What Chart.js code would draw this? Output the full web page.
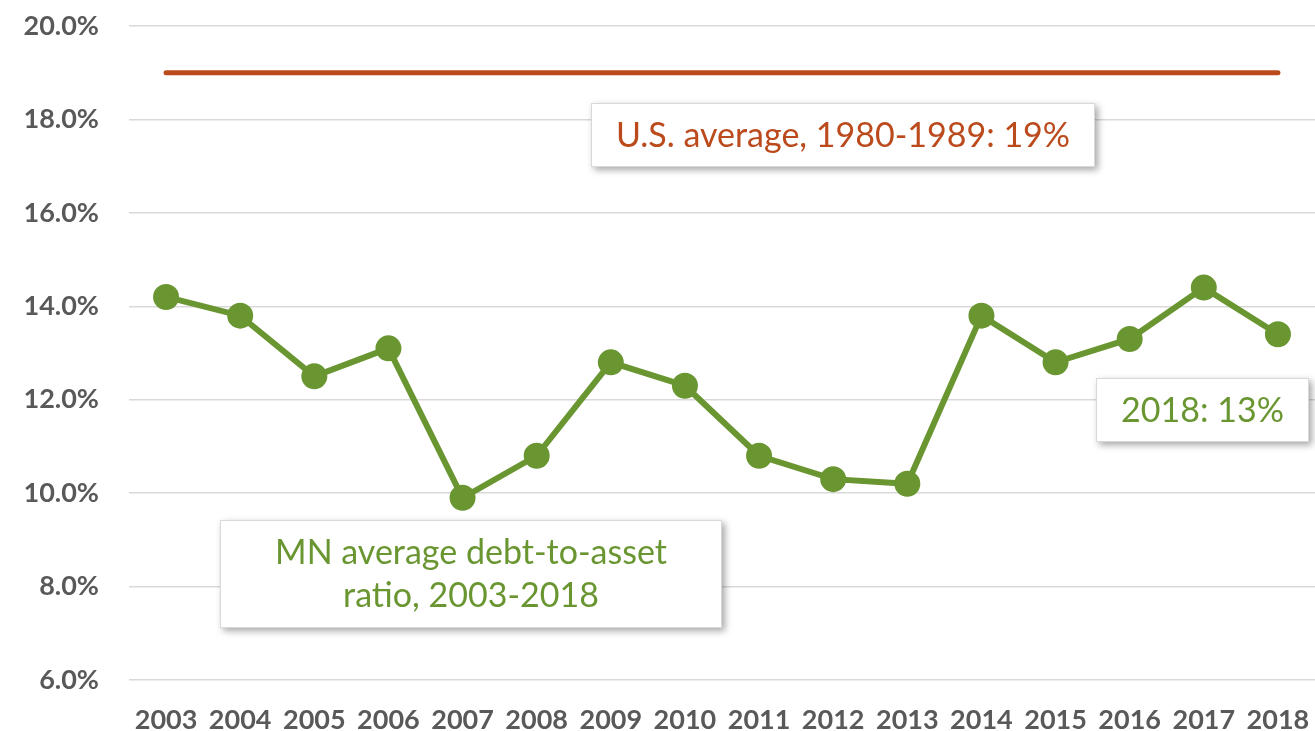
<!DOCTYPE html>
<html>
<head>
<meta charset="utf-8">
<script src="https://cdn.jsdelivr.net/npm/chart.js@4.4.1/dist/chart.umd.min.js"></script>
<style>
    html, body { margin: 0; padding: 0; background: #fff; }
    #wrap { width: 1315px; height: 731px; }
</style>
</head>
<body>
<div id="wrap"><canvas id="graficoDivida"></canvas></div>
<script>
const anos = ['2003', '2004', '2005', '2006', '2007', '2008', '2009', '2010',
    '2011', '2012', '2013', '2014', '2015', '2016', '2017', '2018'];

// razão média dívida/ativo em MN (%)
const mediaMN = [14.2, 13.8, 12.5, 13.1, 9.9, 10.8, 12.8, 12.3,
    10.8, 10.3, 10.2, 13.8, 12.8, 13.3, 14.4, 13.4];

// média dos EUA 1980-1989 (%)
const mediaEUA = [19, 19, 19, 19, 19, 19, 19, 19,
    19, 19, 19, 19, 19, 19, 19, 19];

const ticksY = [6, 8, 10, 12, 14, 16, 18, 20];

const verde = '#6a9632';
const laranja = '#bb4a1c';
const cinzaTexto = '#595959';
const fonteTexto = 'Lato, "Open Sans", sans-serif';

// caixas de texto com sombra, como no slide original
const caixas = [
    { x: 591, y: 103, w: 504, h: 64, cor: laranja, linhas: ['U.S. average, 1980-1989: 19%'] },
    { x: 220, y: 520, w: 502, h: 108, cor: verde, linhas: ['MN average debt-to-asset', 'ratio, 2003-2018'] },
    { x: 1096, y: 378, w: 213, h: 64, cor: verde, linhas: ['2018: 13%'] }
];

const pluginCaixas = {
    id: 'caixas',
    afterDatasetsDraw(chart) {
        const ctx = chart.ctx;
        caixas.forEach(c => {
            ctx.save();
            ctx.shadowColor = 'rgba(0,0,0,0.35)';
            ctx.shadowBlur = 7;
            ctx.shadowOffsetX = 3;
            ctx.shadowOffsetY = 3;
            ctx.fillStyle = '#fff';
            ctx.fillRect(c.x, c.y, c.w, c.h);
            ctx.restore();

            ctx.save();
            ctx.strokeStyle = '#d9d9d9';
            ctx.lineWidth = 1;
            ctx.strokeRect(c.x + 0.5, c.y + 0.5, c.w - 1, c.h - 1);
            ctx.fillStyle = c.cor;
            ctx.font = '34px ' + fonteTexto;
            ctx.textAlign = 'center';
            ctx.textBaseline = 'middle';
            const alt = 43;
            const inicio = c.y + c.h / 2 + 1 - (c.linhas.length - 1) * alt / 2;
            c.linhas.forEach((l, i) => ctx.fillText(l, c.x + c.w / 2, inicio + i * alt));
            ctx.restore();
        });
    }
};

const ctx = document.getElementById('graficoDivida').getContext('2d');

new Chart(ctx, {
    type: 'line',
    data: {
        labels: anos,
        datasets: [
            {
                label: 'U.S. average, 1980-1989',
                data: mediaEUA,
                borderColor: laranja,
                borderWidth: 5,
                borderCapStyle: 'round',
                pointRadius: 0,
                tension: 0
            },
            {
                label: 'MN average debt-to-asset ratio',
                data: mediaMN,
                borderColor: verde,
                backgroundColor: verde,
                borderWidth: 6,
                pointRadius: 10,
                pointBackgroundColor: verde,
                pointBorderColor: verde,
                tension: 0
            }
        ]
    },
    options: {
        responsive: true,
        maintainAspectRatio: false,
        animation: false,
        layout: { autoPadding: false, padding: { top: 26, right: 0, left: 0, bottom: 0 } },
        plugins: {
            legend: { display: false },
            tooltip: { enabled: false }
        },
        scales: {
            x: {
                offset: true,
                grid: { display: false, drawTicks: true, tickLength: 24 },
                border: { display: false },
                ticks: {
                    color: cinzaTexto,
                    font: { family: fonteTexto, size: 27, weight: 'bold' },
                    maxRotation: 0,
                    autoSkip: false,
                    padding: 0
                },
                afterFit: s => {
                    s.height = 51;
                    s.paddingLeft = 0;
                    s.paddingRight = 0;
                }
            },
            y: {
                min: 6,
                max: 20,
                afterBuildTicks: s => { s.ticks = ticksY.map(v => ({ value: v })); },
                grid: { color: '#d9d9d9', lineWidth: 1.5, drawTicks: false },
                border: { display: false },
                ticks: {
                    color: cinzaTexto,
                    font: { family: fonteTexto, size: 27, weight: 'bold' },
                    padding: 30,
                    callback: v => v.toFixed(1) + '%'
                },
                afterFit: s => {
                    s.width = 129;
                    s.paddingTop = 0;
                    s.paddingBottom = 0;
                }
            }
        }
    },
    plugins: [pluginCaixas]
});
</script>
</body>
</html>
